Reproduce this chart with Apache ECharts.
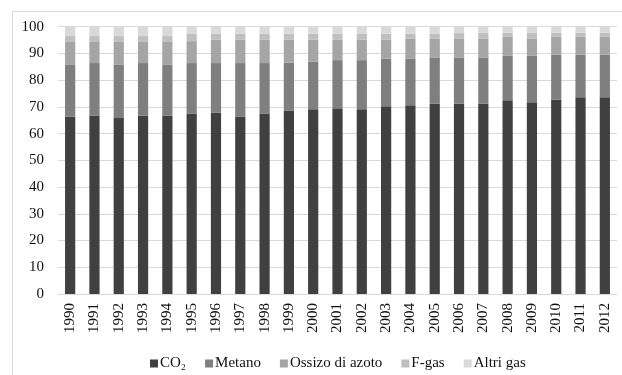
<!DOCTYPE html>
<html>
<head>
<meta charset="utf-8">
<script src="https://cdn.jsdelivr.net/npm/echarts@6/dist/echarts.min.js"></script>
<style>
  html, body { margin: 0; padding: 0; background: #fff; }
  #chart { width: 622px; height: 375px; }
</style>
</head>
<body>
<div id="chart"></div>
<script>
let years = ['1990', '1991', '1992', '1993', '1994', '1995', '1996', '1997', '1998', '1999', '2000',
    '2001', '2002', '2003', '2004', '2005', '2006', '2007', '2008', '2009', '2010', '2011', '2012']

let co2 = [66.4, 66.8, 65.8, 66.8, 66.8, 67.4, 67.9, 66.4, 67.4, 68.5, 69.1, 69.5, 69.1, 70.2, 70.6, 71.3, 71.3, 71.3, 72.5, 71.7, 72.8, 73.6, 73.6]
let metano = [19.3, 19.6, 19.9, 19.6, 18.9, 19.0, 18.5, 20.0, 19.0, 18.0, 17.8, 18.0, 18.4, 17.8, 17.4, 17.2, 17.2, 17.2, 16.6, 17.4, 16.8, 16.0, 16.0]
let ossizo = [8.8, 8.1, 8.8, 8.1, 8.8, 8.2, 8.7, 8.7, 8.7, 8.6, 8.2, 7.6, 7.6, 7.1, 7.6, 7.1, 7.1, 7.1, 7.1, 6.5, 6.6, 6.6, 6.6]
let fgas = [2.0, 2.0, 2.0, 2.0, 2.0, 2.7, 2.3, 2.3, 2.3, 2.3, 2.3, 2.3, 2.3, 2.3, 1.8, 1.8, 2.0, 2.1, 1.5, 2.1, 1.6, 1.6, 1.6]
let altri = [3.5, 3.5, 3.5, 3.5, 3.5, 2.7, 2.6, 2.6, 2.6, 2.6, 2.6, 2.6, 2.6, 2.6, 2.6, 2.6, 2.4, 2.3, 2.3, 2.3, 2.2, 2.2, 2.2]

let yTicks = [0, 10, 20, 30, 40, 50, 60, 70, 80, 90, 100]

let font = '"Liberation Serif", "Times New Roman", serif'

function barSeries(name, data, color) {
    return {
        name: name,
        type: 'bar',
        stack: 'tot',
        barWidth: '42%',
        data: data,
        itemStyle: { color: color },
        emphasis: { disabled: true }
    }
}

let chart = echarts.init(document.getElementById('chart'))
let option = {
    animation: false,
    textStyle: { fontFamily: font },
    graphic: [{
        type: 'rect',
        shape: { x: 12.5, y: 11.5, width: 700, height: 500 },
        style: { fill: 'none', stroke: '#d9d9d9', lineWidth: 1 },
        silent: true
    }],
    grid: {
        left: 58,
        right: 5,
        top: 26.7,
        bottom: 81
    },
    legend: {
        left: 145,
        top: 351,
        itemWidth: 8,
        itemHeight: 8,
        itemGap: 19,
        icon: 'rect',
        textStyle: { fontFamily: font, fontSize: 15, color: '#111', padding: [0, 0, 0, -3] },
        data: ['CO₂', 'Metano', 'Ossizo di azoto', 'F-gas', 'Altri gas']
    },
    xAxis: {
        type: 'category',
        data: years,
        axisLine: { lineStyle: { color: '#d9d9d9' } },
        axisTick: { show: false },
        axisLabel: {
            rotate: 90,
            margin: 9,
            fontFamily: font,
            fontSize: 15,
            color: '#111'
        }
    },
    yAxis: {
        type: 'value',
        min: yTicks[0],
        max: yTicks[yTicks.length - 1],
        interval: 10,
        axisLine: { show: false },
        axisTick: { show: false },
        splitLine: { lineStyle: { color: '#d9d9d9', width: 1 } },
        axisLabel: {
            margin: 14,
            fontFamily: font,
            fontSize: 15,
            color: '#111'
        }
    },
    series: [
        barSeries('CO₂', co2, '#404040'),
        barSeries('Metano', metano, '#7f7f7f'),
        barSeries('Ossizo di azoto', ossizo, '#a5a5a5'),
        barSeries('F-gas', fgas, '#bfbfbf'),
        barSeries('Altri gas', altri, '#d9d9d9')
    ]
}
chart.setOption(option)
</script>
</body>
</html>
